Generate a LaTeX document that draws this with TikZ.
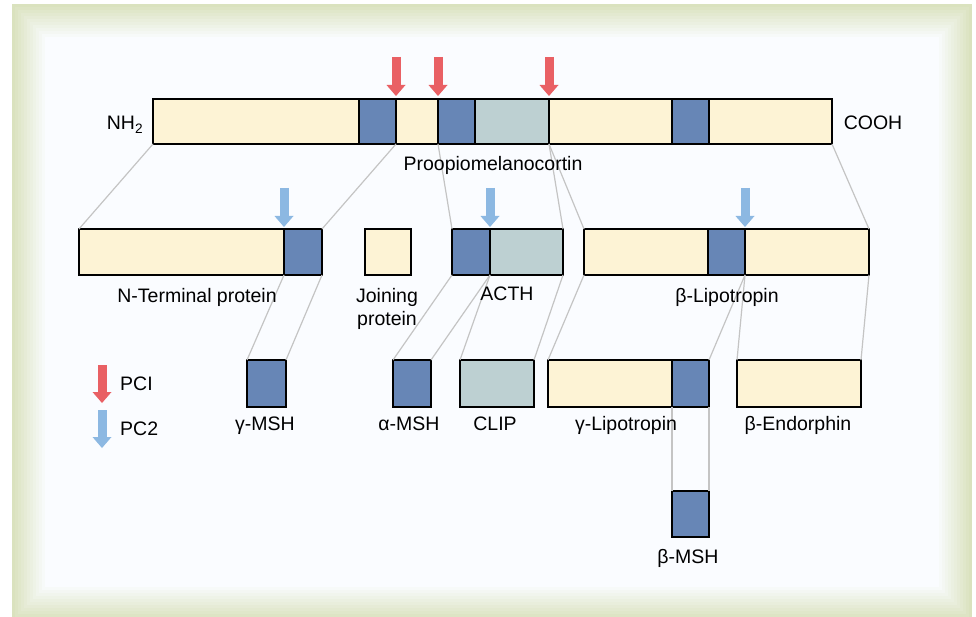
\documentclass[tikz,border=0pt]{standalone}
\usepackage{fontspec}
\setmainfont{Liberation Sans}
\usetikzlibrary{calc}
\usetikzlibrary{arrows.meta}
\usetikzlibrary{positioning}

\definecolor{frame}{RGB}{218,226,190}
\definecolor{paper}{RGB}{250,252,255}
\definecolor{cream}{RGB}{253,243,213}
\definecolor{mshblue}{RGB}{103,134,182}
\definecolor{clipgrey}{RGB}{189,208,210}
\definecolor{cutred}{RGB}{233,96,100}
\definecolor{cutblue}{RGB}{140,184,226}
\definecolor{linkgrey}{RGB}{196,196,196}

\tikzset{
	seg/.style={draw=black, line width=1.4pt, inner sep=0pt, outer sep=0pt},
	pro/.style={seg, fill=cream},
	msh/.style={seg, fill=mshblue},
	clp/.style={seg, fill=clipgrey},
	lbl/.style={inner sep=0pt, anchor=base, font=\fontsize{19.5}{23}\selectfont},
	link/.style={color=linkgrey, line width=1.2pt},
	redcut/.style={cutred, line width=9pt, -{Triangle[width=19pt,length=11pt,line width=0pt]}},
	bluecut/.style={cutblue, line width=9pt, -{Triangle[width=19pt,length=11pt,line width=0pt]}},
}

% box from (x1,y1) to (x2,y2), y counted downwards
\newcommand{\segbox}[6]{\node[#1, minimum width=#4pt-#2pt, minimum height=#5pt-#3pt] (#6) at ({(#2+#4)/2},{(#3+#5)/2}) {};}

\begin{document}
\begin{tikzpicture}[x=1pt, y=-1pt]
	\useasboundingbox (0,0) rectangle (976,617);

	\foreach \k in {0,...,11} {
		\pgfmathsetmacro\mix{100-\k*100/11}
		\fill[frame!\mix!paper] (12+3*\k, 4+3*\k) rectangle (972-3*\k, 620-3*\k);
	}

	% proopiomelanocortin
	\segbox{pro}{153}{99}{359}{144}{p1}
	\segbox{msh}{359}{99}{396}{144}{p2}
	\segbox{pro}{396}{99}{438}{144}{p3}
	\segbox{msh}{438}{99}{475}{144}{p4}
	\segbox{clp}{475}{99}{549}{144}{p5}
	\segbox{pro}{549}{99}{672}{144}{p6}
	\segbox{msh}{672}{99}{709}{144}{p7}
	\segbox{pro}{709}{99}{832}{144}{p8}

	% first cleavage
	\segbox{pro}{79}{229}{284}{275}{nt}
	\segbox{msh}{284}{229}{322}{275}{ntm}
	\segbox{pro}{365}{229}{411}{275}{jp}
	\segbox{msh}{452}{229}{490}{275}{acm}
	\segbox{clp}{490}{229}{563}{275}{acc}
	\segbox{pro}{584}{229}{708}{275}{bl1}
	\segbox{msh}{708}{229}{745}{275}{blm}
	\segbox{pro}{745}{229}{869}{275}{bl2}

	% second cleavage
	\segbox{msh}{247}{360}{286}{407}{gmsh}
	\segbox{msh}{393}{360}{431}{407}{amsh}
	\segbox{clp}{460}{360}{534}{407}{clipbox}
	\segbox{pro}{548}{360}{672}{407}{gl1}
	\segbox{msh}{672}{360}{709}{407}{glm}
	\segbox{pro}{737}{360}{861}{407}{bend}
	\segbox{msh}{672}{491}{709}{537}{bmsh}

	\draw[link] (p1.south west) -- (nt.north west);
	\draw[link] (p2.south east) -- (ntm.north east);
	\draw[link] (p4.south west) -- (acm.north west);
	\draw[link] (p5.south east) -- (acc.north east);
	\draw[link] (p5.south east) -- (bl1.north west);
	\draw[link] (p8.south east) -- (bl2.north east);

	\draw[link] (ntm.south west) -- (gmsh.north west);
	\draw[link] (ntm.south east) -- (gmsh.north east);
	\draw[link] (acm.south west) -- (amsh.north west);
	\draw[link] (acm.south east) -- (amsh.north east);
	\draw[link] (acc.south west) -- (clipbox.north west);
	\draw[link] (acc.south east) -- (clipbox.north east);
	\draw[link] (bl1.south west) -- (gl1.north west);
	\draw[link] (blm.south east) -- (glm.north east);
	\draw[link] (bl2.south west) -- (bend.north west);
	\draw[link] (bl2.south east) -- (bend.north east);
	\draw[link] (glm.south west) -- (bmsh.north west);
	\draw[link] (glm.south east) -- (bmsh.north east);

	\draw[redcut] ($(p2.north east) + (0,-42)$) -- ($(p2.north east) + (0,-3)$);
	\draw[redcut] ($(p4.north west) + (0,-42)$) -- ($(p4.north west) + (0,-3)$);
	\draw[redcut] ($(p5.north east) + (0,-42)$) -- ($(p5.north east) + (0,-3)$);
	\draw[bluecut] ($(ntm.north west) + (0,-41)$) -- ($(ntm.north west) + (0,-2)$);
	\draw[bluecut] ($(acm.north east) + (0,-41)$) -- ($(acm.north east) + (0,-2)$);
	\draw[bluecut] ($(blm.north east) + (0,-41)$) -- ($(blm.north east) + (0,-2)$);

	\node[lbl] (nh) at (125,130) {NH\textsubscript{2}};
	\node[lbl] (cooh) at (873,130) {COOH};
	\node[lbl] (pomc) at (493,171) {Proopiomelanocortin};
	\node[lbl] (ntl) at (197,302) {N-Terminal protein};
	\node[lbl, align=center] (jpl) at (387,325) {Joining\\protein};
	\node[lbl] (actl) at (507,301) {ACTH};
	\node[lbl] (bll) at (727,302) {β-Lipotropin};
	\node[lbl] (gmshl) at (265,430) {γ-MSH};
	\node[lbl] (amshl) at (409,430) {α-MSH};
	\node[lbl] (clipl) at (495,430) {CLIP};
	\node[lbl] (gll) at (626,430) {γ-Lipotropin};
	\node[lbl] (bendl) at (798,430) {β-Endorphin};
	\node[lbl] (bmshl) at (688,563) {β-MSH};

	% key
	\coordinate (key1) at (102,365);
	\coordinate (key2) at (102,410);
	\draw[redcut] (key1) -- ++(0,38);
	\draw[bluecut] (key2) -- ++(0,38);
	\node[lbl, anchor=base west] (pc1) at (120,390) {PCI};
	\node[lbl, anchor=base west] (pc2) at (120,435) {PC2};
\end{tikzpicture}
\end{document}
